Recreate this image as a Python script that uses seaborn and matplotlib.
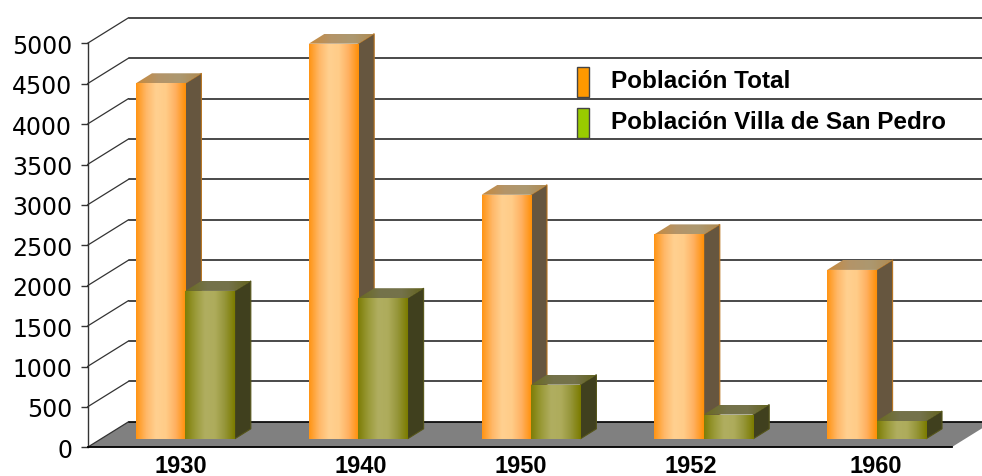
import pandas as pd
import matplotlib
matplotlib.use("Agg")
import matplotlib.pyplot as plt
from matplotlib.colors import LinearSegmentedColormap
from matplotlib.patches import Patch, Polygon
from matplotlib.transforms import Affine2D
import numpy as np
import seaborn as sns

years = ["1930", "1940", "1950", "1952", "1960"]
poblacion_total = [4400, 4890, 3020, 2530, 2090]
poblacion_villa = [1830, 1740, 670, 300, 220]
y_ticks = [0, 500, 1000, 1500, 2000, 2500, 3000, 3500, 4000, 4500, 5000]
series_names = ["Población Total", "Población Villa de San Pedro"]

sns.set_style("white")
plt.rcParams["font.family"] = ["Liberation Sans", "DejaVu Sans"]

W, H = 982, 477
fig = plt.figure(figsize=(W / 100, H / 100), dpi=100, facecolor="white")
# front plane of the fake 3d box, in pixels of the output
left, right, bottom, top = 87.5, 951.5, 448.3, 44.3
ax = fig.add_axes([left / W, 1 - bottom / H, (right - left) / W, (bottom - top) / H])

df = pd.DataFrame({
    "year": years * 2,
    "value": poblacion_total + poblacion_villa,
    "serie": [series_names[0]] * 5 + [series_names[1]] * 5,
})
sns.barplot(ax=ax, data=df, x="year", y="value", hue="serie", width=0.572, gap=0,
            palette=["#FF9900", "#808000"], legend=False, saturation=1, errorbar=None)

ax.set_xlim(-0.5, 4.5)
ax.set_ylim(0, 5000)
ax.autoscale(False)
ax.set(xlabel="", ylabel="")
ax.patch.set_alpha(0)

# data units for one pixel
ux = 5 / (right - left)
uy = 5000 / (bottom - top)

def shift(x, y, px, py):
    return (x + px * ux, y + py * uy)

# floor and walls
WALL = (41, 25.5)
x0, x1 = ax.get_xlim()
floor = [(x0, 0), (x1, 0), shift(x1, 0, *WALL), shift(x0, 0, *WALL)]
ax.add_patch(Polygon(floor, closed=True, fc="#808080", ec="none", zorder=1, clip_on=False))
for t in y_ticks:
    bx, by = shift(x0, t, *WALL)
    ax.plot([x0, bx], [t, by], color="#333333", lw=0.9, zorder=2, clip_on=False)
    ax.plot([bx, x1 + 60 * ux], [by, by], color="#2a2a2a" if t else "black", lw=1.2, zorder=2, clip_on=False)

# bars
BAR_OFFSET = (11.5, 8.5)
DEPTH = (16, 10)
front_maps = [
    LinearSegmentedColormap.from_list("o", ["#FF9515", "#FFB868", "#FFD090", "#FFCC88", "#FFB060", "#FF9008"]),
    LinearSegmentedColormap.from_list("g", ["#7E7E08", "#9A9A38", "#B0AE60", "#AEAC5C", "#96963A", "#7C7C00"]),
]
top_maps = [
    LinearSegmentedColormap.from_list("ot", ["#C88A3C", "#B49468", "#AC9870", "#B08A50"]),
    LinearSegmentedColormap.from_list("gt", ["#6A6A1E", "#74724A", "#74724A", "#62621C"]),
]
side_colors = ["#66563F", "#40401E"]
side_edges = ["#B87420", "#55551A"]
grad = np.linspace(0, 1, 64).reshape(1, -1)

for k, container in enumerate(ax.containers):
    for j, bar in enumerate(container):
        z = 5 + k * 5
        bx, bw, bh = bar.get_x(), bar.get_width(), bar.get_height()
        fx, fy = shift(bx, 0, *BAR_OFFSET)
        bar.set_x(fx)
        bar.set_y(fy)
        bar.set_clip_on(False)
        bar.set_linewidth(0)
        bar.set_zorder(z)
        ftop = fy + bh
        im = ax.imshow(grad, extent=(fx, fx + bw, fy, ftop), aspect="auto",
                       cmap=front_maps[k], zorder=z + 0.1)
        im.set_clip_box(fig.bbox)
        im.set_clip_path(bar)

        side = [(fx + bw, fy), (fx + bw, ftop), shift(fx + bw, ftop, *DEPTH), shift(fx + bw, fy, *DEPTH)]
        ax.add_patch(Polygon(side, closed=True, fc=side_colors[k], ec=side_edges[k], lw=0.8,
                             zorder=z, clip_on=False))

        lid = [(fx, ftop), (fx + bw, ftop), shift(fx + bw, ftop, *DEPTH), shift(fx, ftop, *DEPTH)]
        lid_patch = Polygon(lid, closed=True, fc="none", ec="none", zorder=z, clip_on=False)
        ax.add_patch(lid_patch)
        im2 = ax.imshow(grad, extent=(fx, lid[2][0], ftop, lid[2][1]), aspect="auto",
                        cmap=top_maps[k], zorder=z + 0.1)
        im2.set_clip_box(fig.bbox)
        im2.set_clip_path(lid_patch)

# axes
sns.despine(ax=ax, top=True, right=True)
ax.spines["left"].set_color("#333333")
ax.spines["left"].set_linewidth(1.0)
ax.spines["bottom"].set_color("black")
ax.spines["bottom"].set_linewidth(1.3)
ax.spines["left"].set_zorder(3)
ax.spines["bottom"].set_zorder(3)

ax.set_yticks(y_ticks)
ax.tick_params(axis="y", left=True, length=5, width=1, color="#333333", pad=6)
for lab in ax.get_yticklabels():
    lab.set_family("DejaVu Sans")
    lab.set_fontsize(17)
    lab.set_color("black")

ax.tick_params(axis="x", bottom=False, pad=1)
label_shift = [7, 14, 1, -1, 11]
for lab, dx in zip(ax.get_xticklabels(), label_shift):
    lab.set_fontsize(17)
    lab.set_fontweight("bold")
    lab.set_color("black")
    lab.set_transform(lab.get_transform() + Affine2D().translate(dx, 0))

handles = [
    Patch(fc="#FF9900", ec="#444444", lw=1, label=series_names[0]),
    Patch(fc="#99CC00", ec="#444444", lw=1, label=series_names[1]),
]
leg = fig.legend(handles=handles, loc="upper left", bbox_to_anchor=(577 / W, 1 - 68 / H),
                 frameon=False, borderpad=0, borderaxespad=0,
                 prop={"family": "Liberation Sans", "weight": "bold", "size": 17.5},
                 handlelength=0.5, handleheight=1.55, handletextpad=0.88, labelspacing=0.42)
for txt in leg.get_texts():
    txt.set_color("black")
    txt.set_y(3)
leg.set_zorder(30)

fig.savefig("out.png", dpi=100, facecolor="white")
